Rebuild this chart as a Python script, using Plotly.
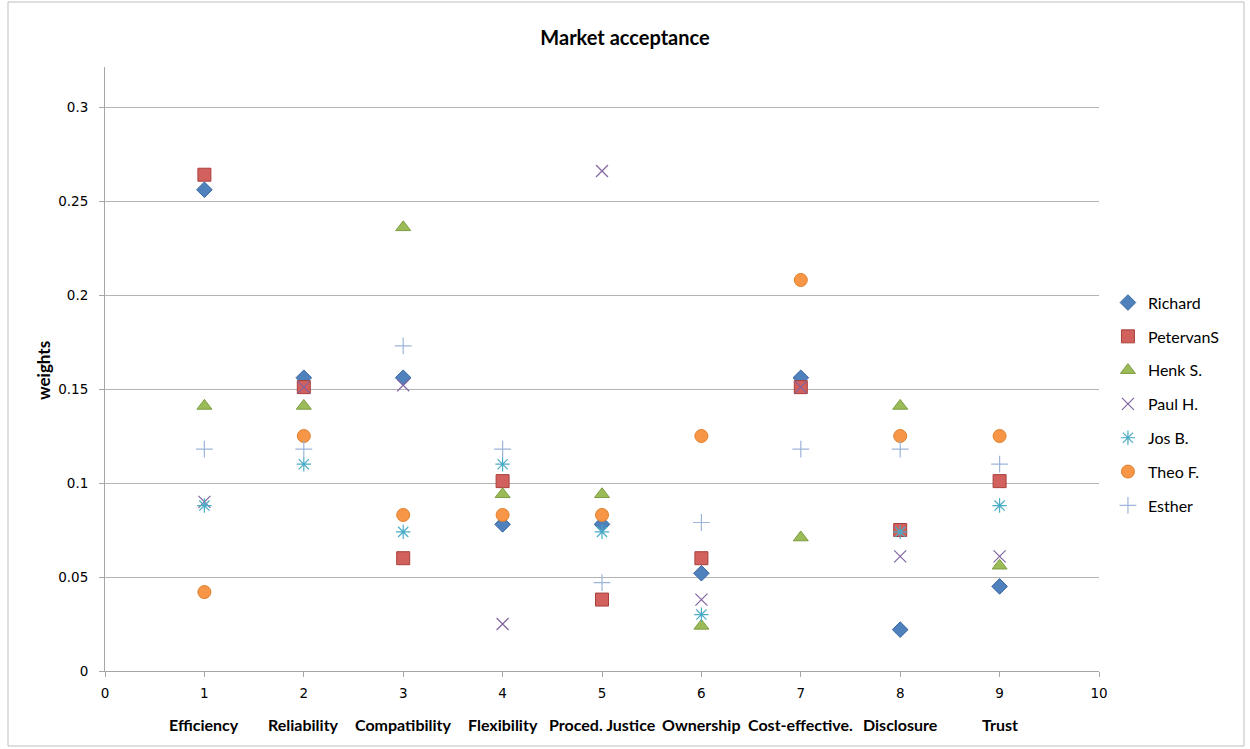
import plotly.graph_objects as go

# Criteria (x positions 1..9) and their labels
criteria = ["Efficiency", "Reliability", "Compatibility", "Flexibility", "Proced. Justice",
            "Ownership", "Cost-effective.", "Disclosure", "Trust"]
positions = [1, 2, 3, 4, 5, 6, 7, 8, 9]

# Weights per respondent
richard   = [0.256, 0.156, 0.156, 0.078, 0.078, 0.052, 0.156, 0.022, 0.045]
petervans = [0.264, 0.151, 0.060, 0.101, 0.038, 0.060, 0.151, 0.075, 0.101]
henk      = [0.141, 0.141, 0.236, 0.094, 0.094, 0.024, 0.071, 0.141, 0.056]
paul      = [0.090, 0.151, 0.152, 0.025, 0.266, 0.038, 0.151, 0.061, 0.061]
jos       = [0.088, 0.110, 0.074, 0.110, 0.074, 0.030, None, 0.074, 0.088]
theo      = [0.042, 0.125, 0.083, 0.083, 0.083, 0.125, 0.208, 0.125, 0.125]
esther    = [0.118, 0.118, 0.173, 0.118, 0.047, 0.079, 0.118, 0.118, 0.110]

series = [
    ("Richard", richard, dict(symbol="diamond", size=12, color="#4F81BD",
                              line=dict(color="#3A67A0", width=1))),
    ("PetervanS", petervans, dict(symbol="square", size=13, color="#D2605C",
                                  line=dict(color="#A8403D", width=1))),
    ("Henk S.", henk, dict(symbol="triangle-up", size=13, color="#9BBB59",
                           line=dict(color="#7E9C40", width=1))),
    ("Paul H.", paul, dict(symbol="x-thin", size=12, color="#8064A2",
                           line=dict(color="#8064A2", width=1.2))),
    ("Jos B.", jos, dict(symbol="asterisk", size=12, color="#4BACC6",
                         line=dict(color="#4BACC6", width=1.2))),
    ("Theo F.", theo, dict(symbol="circle", size=13, color="#F79646",
                           line=dict(color="#E07F2C", width=1))),
    ("Esther", esther, dict(symbol="cross-thin", size=12, color="#9DB5DA",
                            line=dict(color="#9DB5DA", width=1.2))),
]

fig = go.Figure()
for i, (name, vals, marker) in enumerate(series):
    fig.add_trace(go.Scatter(x=positions, y=vals, mode="markers", name=name,
                             marker=marker, legendgroup=f"g{i}"))

text_family = "Lato, Open Sans, sans-serif"
label_font = dict(family=text_family, size=16, color="#000000")
tick_font = dict(family="DejaVu Sans, sans-serif", size=13.5, color="#000000")

fig.update_layout(
    width=1250, height=749,
    margin=dict(l=105, r=151, t=67, b=78),
    paper_bgcolor="white", plot_bgcolor="white",
    title=dict(text="<b>Market acceptance</b>", x=0.5, xanchor="center",
               y=1 - 38 / 749, yanchor="middle",
               font=dict(family=text_family, size=20, color="#000000")),
    showlegend=True,
    legend=dict(x=1.009, xanchor="left", y=0.638, yanchor="top",
                font=dict(family=text_family, size=16, color="#000000"),
                tracegroupgap=10, itemwidth=30, bgcolor="rgba(0,0,0,0)"),
    xaxis=dict(range=[0, 10], dtick=1, tick0=0, showgrid=False, zeroline=False,
               showline=True, linecolor="#A6A6A6", linewidth=1,
               ticks="outside", ticklen=5, tickcolor="#A6A6A6",
               ticklabelstandoff=5, tickfont=tick_font),
    yaxis=dict(range=[0, 0.3213], dtick=0.05, tick0=0, showgrid=True,
               gridcolor="#B3B3B3", gridwidth=1, zeroline=False,
               showline=True, linecolor="#A6A6A6", linewidth=1,
               ticks="outside", ticklen=5, tickcolor="#A6A6A6",
               ticklabelstandoff=8, tickfont=tick_font),
)

# Criterion names beneath the numeric ticks
for pos, name in zip(positions, criteria):
    fig.add_annotation(x=pos, xref="x", y=(671 - 724) / 604, yref="paper",
                       text=f"<b>{name}</b>", showarrow=False,
                       xanchor="center", yanchor="middle", font=label_font)

# Vertical axis title
fig.add_annotation(x=(43 - 105) / 994, xref="paper", y=(671 - 371) / 604, yref="paper",
                   text="<b>weights</b>", textangle=-90, showarrow=False,
                   xanchor="center", yanchor="middle",
                   font=dict(family=text_family, size=17, color="#000000"))

# Chart frame
fig.add_shape(type="rect", xref="paper", yref="paper",
              x0=(8 - 105) / 994, x1=(1244 - 105) / 994,
              y0=(671 - 746) / 604, y1=(671 - 2) / 604,
              line=dict(color="#BFBFBF", width=1), fillcolor="rgba(0,0,0,0)", layer="below")

fig.write_html("out.html")
